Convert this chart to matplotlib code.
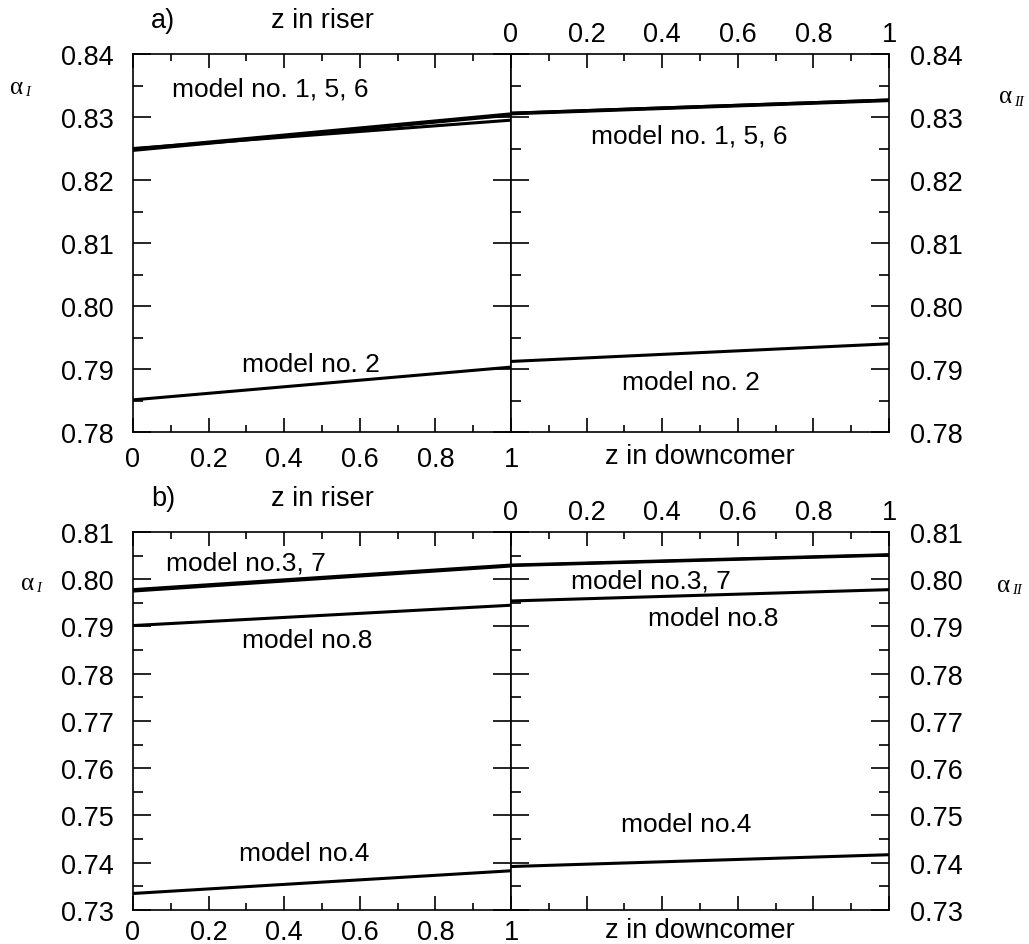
import matplotlib
matplotlib.use("Agg")
import matplotlib.pyplot as plt
from matplotlib.ticker import MultipleLocator, FixedLocator, FormatStrFormatter

plt.rcParams['font.family'] = ['Liberation Sans', 'DejaVu Sans']

# ---------------- data ----------------
z = [0.0, 1.0]
# panel a
riser_a = {
    "m1": [0.8249, 0.8305],
    "m5": [0.8247, 0.8303],
    "m6": [0.8250, 0.8295],
    "m2": [0.7851, 0.7903],
}
down_a = {
    "m1": [0.8306, 0.8327],
    "m5": [0.8305, 0.8326],
    "m6": [0.8306, 0.8327],
    "m2": [0.7912, 0.7940],
}
# panel b
riser_b = {
    "m3": [0.7978, 0.8030],
    "m7": [0.7975, 0.8028],
    "m8": [0.7902, 0.7945],
    "m4": [0.7335, 0.7383],
}
down_b = {
    "m3": [0.8030, 0.8052],
    "m7": [0.8029, 0.8051],
    "m8": [0.7954, 0.7978],
    "m4": [0.7392, 0.7417],
}
xtick_vals = [0, 0.2, 0.4, 0.6, 0.8, 1]
xtick_labels = ["0", "0.2", "0.4", "0.6", "0.8", "1"]
ylim_a = (0.78, 0.84)
ylim_b = (0.73, 0.81)

# annotations (text, x centre, y centre) in data coords
ann_riser_a = [("model no. 1, 5, 6", 0.364, 0.8345), ("model no. 2", 0.47, 0.7908)]
ann_down_a = [("model no. 1, 5, 6", 0.471, 0.8270), ("model no. 2", 0.476, 0.7880)]
ann_riser_b = [("model no.3, 7", 0.30, 0.8036), ("model no.8", 0.46, 0.7872),
               ("model no.4", 0.453, 0.7421)]
ann_down_b = [("model no.3, 7", 0.37, 0.7997), ("model no.8", 0.536, 0.7918),
              ("model no.4", 0.463, 0.7482)]

FS = 19.5
FS_ANN = 19
W, H = 1029, 945
fig = plt.figure(figsize=(W / 100, H / 100), dpi=100)


def px(x0, y0, w, h):
    return [x0 / W, 1 - (y0 + h) / H, w / W, h / H]


LW_SP = 1.2
LW = 2.2


def style(ax, left_panel, bottom_pad):
    for s in ax.spines.values():
        s.set_linewidth(LW_SP)
    ax.set_xlim(0, 1)
    ax.xaxis.set_major_locator(FixedLocator(xtick_vals))
    ax.xaxis.set_minor_locator(MultipleLocator(0.1))
    ax.yaxis.set_major_locator(MultipleLocator(0.01))
    ax.yaxis.set_minor_locator(MultipleLocator(0.005))
    ax.tick_params(axis='both', which='both', direction='in', width=LW_SP,
                   labelsize=FS, top=True, bottom=True, left=True, right=True)
    ax.tick_params(axis='y', which='major', length=13)
    ax.tick_params(axis='y', which='minor', length=7)
    ax.tick_params(axis='x', which='major', length=10)
    ax.tick_params(axis='x', which='minor', length=5)
    if left_panel:
        ax.tick_params(axis='x', labelbottom=True, labeltop=False, pad=bottom_pad)
        ax.tick_params(axis='y', labelleft=True, labelright=False, pad=14)
        ax.tick_params(axis='y', which='minor', right=False)
    else:
        ax.tick_params(axis='x', labelbottom=False, labeltop=True, pad=5)
        ax.tick_params(axis='y', labelleft=False, labelright=True, pad=15)
    ax.set_xticklabels(xtick_labels)
    ax.yaxis.set_major_formatter(FormatStrFormatter('%.2f'))


def panel(top, height, ylim, riser, down, ann_r, ann_d, tag, bottom_pad, dc_off):
    axl = fig.add_axes(px(133, top, 378, height))
    axr = fig.add_axes(px(511, top, 378, height))
    for ax, left in ((axl, True), (axr, False)):
        ax.set_ylim(*ylim)
        style(ax, left, bottom_pad)
    for k, v in riser.items():
        axl.plot(z, v, color='black', lw=LW, solid_capstyle='butt')
    for k, v in down.items():
        axr.plot(z, v, color='black', lw=LW, solid_capstyle='butt')
    for t, x, y in ann_r:
        axl.text(x, y, t, fontsize=FS_ANN, ha='center', va='center')
    for t, x, y in ann_d:
        axr.text(x, y, t, fontsize=FS_ANN, ha='center', va='center')
    axl.text(0.5, 1.0 + 34 / height, "z in riser", transform=axl.transAxes,
             fontsize=FS, ha='center', va='center')
    axl.text(0.08, 1.0 + 34 / height, tag, transform=axl.transAxes,
             fontsize=FS, ha='center', va='center')
    axr.text(0.5, -dc_off / height, "z in downcomer", transform=axr.transAxes,
             fontsize=FS, ha='center', va='center')
    return axl, axr


axl_a, axr_a = panel(55, 378, ylim_a, riser_a, down_a, ann_riser_a, ann_down_a, "a)", 10, 24)
axl_b, axr_b = panel(533, 378, ylim_b, riser_b, down_b, ann_riser_b, ann_down_b, "b)", 6.5, 20)


def alpha_label(xp, yp, sub):
    fig.text(xp / W, 1 - yp / H, "\u03b1", fontsize=18, family='Liberation Serif',
             ha='center', va='center')
    fig.text((xp + 8) / W, 1 - (yp + 5) / H, sub, fontsize=10.5, family='Liberation Serif',
             style='italic', ha='left', va='center')


alpha_label(17, 88, "I")
alpha_label(1006, 97, "II")
alpha_label(28, 584, "I")
alpha_label(1004, 586, "II")

fig.savefig("out.png", dpi=100, facecolor='white')
